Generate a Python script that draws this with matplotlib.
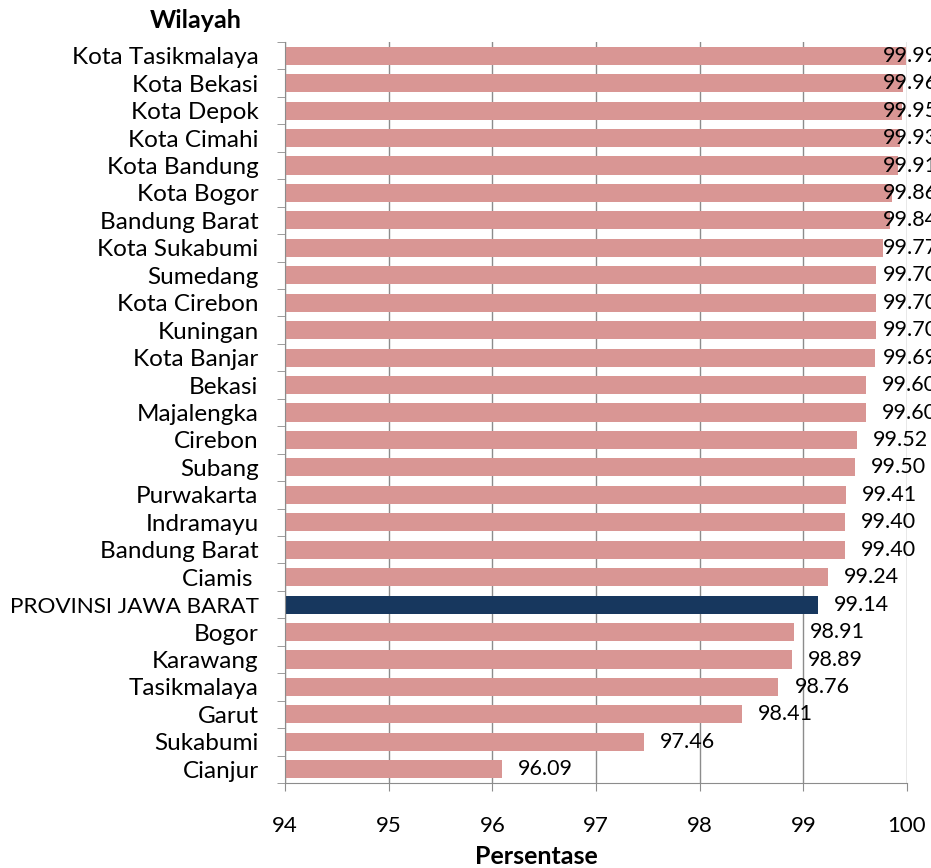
import matplotlib
matplotlib.use('Agg')
import matplotlib.pyplot as plt
import numpy as np

plt.rcParams['font.family'] = ['Lato', 'DejaVu Sans']

wilayah = ['Kota Tasikmalaya', 'Kota Bekasi', 'Kota Depok', 'Kota Cimahi', 'Kota Bandung',
           'Kota Bogor', 'Bandung Barat', 'Kota Sukabumi', 'Sumedang', 'Kota Cirebon',
           'Kuningan', 'Kota Banjar', 'Bekasi', 'Majalengka', 'Cirebon', 'Subang',
           'Purwakarta', 'Indramayu', 'Bandung Barat', 'Ciamis ', 'PROVINSI JAWA BARAT',
           'Bogor', 'Karawang', 'Tasikmalaya', 'Garut', 'Sukabumi', 'Cianjur']
persen = [99.99, 99.96, 99.95, 99.93, 99.91, 99.86, 99.84, 99.77, 99.70, 99.70,
          99.70, 99.69, 99.60, 99.60, 99.52, 99.50, 99.41, 99.40, 99.40, 99.24,
          99.14, 98.91, 98.89, 98.76, 98.41, 97.46, 96.09]
xticks = [94, 95, 96, 97, 98, 99, 100]

pink = '#D99694'
navy = '#17375E'
grey = '#8C8C8C'

fig = plt.figure(figsize=(9.31, 8.68), dpi=100)
ax = fig.add_axes([285 / 931, 1 - 783 / 868, 622 / 931, 741 / 868])

n = len(persen)
ypos = np.arange(n)
colors = [navy if w.startswith('PROVINSI') else pink for w in wilayah]
ax.barh(ypos, [v - 94 for v in persen], left=94, height=0.66, color=colors, zorder=2)

# data labels (Excel keeps them inside the plot area)
for y, v in zip(ypos, persen):
    ax.text(min(v + 0.155, 99.77), y, '%.2f' % v, va='center', ha='left',
            fontsize=15.5, color='black', zorder=3, clip_on=False)

ax.set_xlim(94, 100)
ax.set_ylim(n - 0.5, -0.5)
ax.set_xticks(xticks)
ax.set_xticklabels([str(t) for t in xticks], fontsize=16)
ax.set_yticks(ypos)
ax.set_yticklabels(wilayah, fontsize=17.5)
for lbl in ax.get_yticklabels():
    if lbl.get_text().startswith('PROVINSI'):
        lbl.set_fontsize(16.2)
ax.set_yticks(np.arange(n + 1) - 0.5, minor=True)
ax.tick_params(axis='y', which='major', length=0, pad=19)
ax.tick_params(axis='y', which='minor', length=6, color=grey, direction='out')
ax.tick_params(axis='x', length=6, color=grey, pad=18)
ax.grid(axis='x', color=grey, linewidth=1, zorder=0)

for s in ['top', 'right']:
    ax.spines[s].set_visible(False)
for s in ['left', 'bottom']:
    ax.spines[s].set_color(grey)

fig.text(196 / 931, 1 - 20 / 868, 'Wilayah', ha='center', va='center',
         fontsize=18, fontweight='bold')
fig.text(536 / 931, 1 - 857 / 868, 'Persentase', ha='center', va='center',
         fontsize=18, fontweight='bold')

fig.savefig('out.png', dpi=100)
